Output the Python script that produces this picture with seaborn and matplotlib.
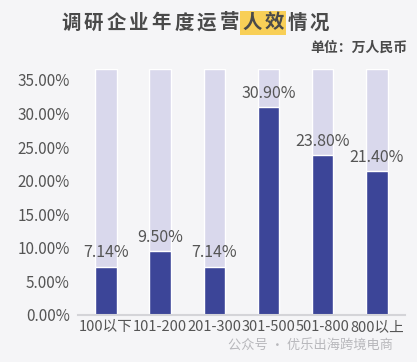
import matplotlib
matplotlib.use("Agg")
import matplotlib.pyplot as plt
import seaborn as sns
import pandas as pd

categories = ["100以下", "101-200", "201-300", "301-500", "501-800", "800以上"]
values = [7.14, 9.50, 7.14, 30.90, 23.80, 21.40]
background = [36.6, 36.6, 36.6, 36.6, 36.6, 36.6]
y_ticks = [0, 5, 10, 15, 20, 25, 30, 35]

title_chars = list("调研企业年度运营人效情况")
highlight = {"人", "效"}

sns.set_theme(style="white")
plt.rcParams["font.family"] = ["Noto Sans CJK SC", "DejaVu Sans"]

BG = "#f5f5f7"
DARK = "#3c4598"
LIGHT = "#d9d8ec"
TEXT = "#555555"

df = pd.DataFrame({"cat": categories, "val": values, "bg": background})

fig = plt.figure(figsize=(4.17, 3.62), dpi=100, facecolor=BG)
ax = fig.add_axes([0.187, 0.130, 0.784, 0.679])
ax.set_facecolor(BG)

sns.barplot(data=df, x="cat", y="bg", color=LIGHT, width=0.4, saturation=1, ax=ax)
sns.barplot(data=df, x="cat", y="val", color=DARK, width=0.4, saturation=1, ax=ax)

for i, v in enumerate(values):
    ax.annotate(f"{v:.2f}%", (i, v), xytext=(0, 4), textcoords="offset points",
                ha="center", va="bottom", fontsize=11.5, color=TEXT)

ax.set_xlim(-0.52, 5.52)
ax.set_ylim(0, 36.6)
ax.set_yticks(y_ticks)
ax.set_yticklabels([f"{t:.2f}%" for t in y_ticks], fontsize=11, color=TEXT)
ax.tick_params(axis="x", labelsize=10.5, labelcolor=TEXT, length=0, pad=4)
ax.tick_params(axis="y", length=0, pad=6)
ax.set_xlabel("")
ax.set_ylabel("")
for s in ["top", "right", "left"]:
    ax.spines[s].set_visible(False)
ax.spines["bottom"].set_color("#d4d4d8")
ax.spines["bottom"].set_linewidth(1.5)

# title, one character at a time for the wide letter spacing
x0, pitch = 71 / 417, 22.6 / 417
for k, ch in enumerate(title_chars):
    kw = {}
    if ch in highlight:
        kw["bbox"] = dict(boxstyle="square,pad=0.12", fc="#f8cf57", ec="none")
    fig.text(x0 + k * pitch, 1 - 23 / 362, ch, ha="center", va="center",
             fontsize=14, fontweight="bold", color="#4a4a4a", **kw)

fig.text(407 / 417, 1 - 48 / 362, "单位：万人民币", ha="right", va="center",
         fontsize=10, fontweight="bold", color="#4a4a4a")

fig.text(393 / 417, 1 - 345 / 362, "公众号 · 优乐出海跨境电商", ha="right", va="center",
         fontsize=9.5, color="#b8b8bc")

fig.savefig("out.png", dpi=100, facecolor=BG)
